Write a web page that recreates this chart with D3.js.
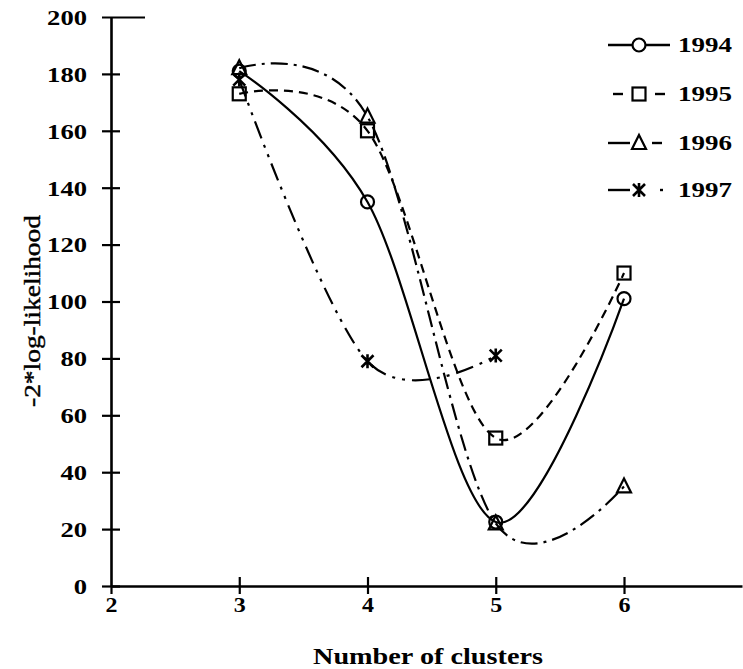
<!DOCTYPE html>
<html><head><meta charset="utf-8">
<script src="https://cdn.jsdelivr.net/npm/d3@7"></script>
<style>
html,body{margin:0;padding:0;background:#fff;}
svg{display:block;}
text{font-family:"Times New Roman","Liberation Serif",Tinos,serif;fill:#000;}
</style></head>
<body>
<svg id="c" width="743" height="669"></svg>
<script>
// ---- data ----
const clusters = [3, 4, 5, 6];
const s1994 = [181, 135, 22.5, 101];
const s1995 = [173, 160, 52, 110];
const s1996 = [182, 165, 22, 35];
const clusters1997 = [3, 4, 5];
const s1997 = [178, 79, 81];
const seriesNames = ["1994", "1995", "1996", "1997"];
const xTickValues = [2, 3, 4, 5, 6];
const yTickValues = [0, 20, 40, 60, 80, 100, 120, 140, 160, 180, 200];
const xTitle = "Number of clusters";
const yTitle = "-2*log-likelihood";

const FONT = '"Times New Roman","Liberation Serif",Tinos,serif';
const svg = d3.select("#c");
const x = d3.scaleLinear().domain([2, 6.92]).range([111, 742]);
const y = d3.scaleLinear().domain([0, 200]).range([586, 17]);

const series = [
  {name: seriesNames[0], xs: clusters, ys: s1994, dash: null, marker: "circle",
   leg: [[608, 670]]},
  {name: seriesNames[1], xs: clusters, ys: s1995, dash: "9,6", marker: "square",
   leg: [[613, 623], [655, 665]]},
  {name: seriesNames[2], xs: clusters, ys: s1996, dash: "17,6,3,6", marker: "triangle",
   leg: [[608, 630], [652, 662]]},
  {name: seriesNames[3], xs: clusters1997, ys: s1997, dash: "18,7,3,7,3,7", marker: "star",
   leg: [[608, 630], [660, 663]]}
];

// axes
const yAxis = svg.append("g").attr("transform", `translate(${x(2)},0)`)
  .call(d3.axisLeft(y).tickValues(yTickValues).tickFormat(d3.format("d")).tickSize(9).tickSizeOuter(0).tickPadding(0));
const xAxis = svg.append("g").attr("transform", `translate(0,${y(0)})`)
  .call(d3.axisBottom(x).tickValues(xTickValues).tickFormat(d3.format("d")).tickSize(9).tickSizeOuter(0).tickPadding(0));
[yAxis, xAxis].forEach(g => {
  g.select(".domain").attr("stroke", "#000").attr("stroke-width", 2.6);
  g.selectAll(".tick line").attr("stroke", "#000").attr("stroke-width", 2.2);
  g.selectAll(".tick text").attr("font-family", FONT).attr("font-weight", "bold")
    .attr("font-size", 21).attr("fill", "#000")
    .attr("lengthAdjust", "spacingAndGlyphs");
});
yAxis.selectAll(".tick line").attr("x1", -9).attr("x2", 9);
yAxis.selectAll(".tick").filter(d => d === 200).select("line").attr("x2", 34);
yAxis.selectAll(".tick text").attr("x", -24).attr("dy", "0.35em")
  .attr("textLength", d => String(d).length * 13.3);
xAxis.selectAll(".tick line").attr("y1", -9).attr("y2", 8);
xAxis.selectAll(".tick text").attr("y", 26).attr("dy", 0)
  .attr("textLength", d => String(d).length * 12);
xAxis.selectAll(".tick").filter(d => d === 2).select("line").attr("y1", 0);

// titles
svg.append("text").attr("x", 428).attr("y", 664).attr("text-anchor", "middle")
  .attr("font-family", FONT).attr("font-weight", "bold").attr("font-size", 24)
  .attr("textLength", 230).attr("lengthAdjust", "spacingAndGlyphs").text(xTitle);
svg.append("text").attr("transform", "translate(40,311) rotate(-90)").attr("text-anchor", "middle")
  .attr("font-family", FONT).attr("font-size", 23).attr("fill", "#000")
  .attr("stroke", "#000").attr("stroke-width", 0.4)
  .attr("textLength", 192).attr("lengthAdjust", "spacingAndGlyphs").text(yTitle);

// markers
function drawMarker(g, type, cx, cy) {
  const st = {fill: "none", stroke: "#000", "stroke-width": 2.2};
  let el;
  if (type === "circle") el = g.append("circle").attr("cx", cx).attr("cy", cy).attr("r", 6.5);
  else if (type === "square") el = g.append("rect").attr("x", cx - 6.5).attr("y", cy - 6.5).attr("width", 13).attr("height", 13);
  else if (type === "triangle") el = g.append("path").attr("d", `M${cx},${cy - 8}L${cx + 7},${cy + 6}L${cx - 7},${cy + 6}Z`);
  else {
    el = g.append("path").attr("d", `M${cx - 6},${cy - 6}L${cx + 6},${cy + 6}M${cx + 6},${cy - 6}L${cx - 6},${cy + 6}M${cx},${cy - 7}L${cx},${cy + 7}`);
    st["stroke-width"] = 2.6;
  }
  Object.entries(st).forEach(([k, v]) => el.attr(k, v));
}

const line = d3.line().curve(d3.curveCardinal.tension(0)).x(d => x(d[0])).y(d => y(d[1]));
series.forEach(s => {
  const pts = s.xs.map((v, i) => [v, s.ys[i]]);
  svg.append("path").attr("d", line(pts)).attr("fill", "none").attr("stroke", "#000")
    .attr("stroke-width", 2.2).attr("stroke-dasharray", s.dash);
});
series.forEach(s => {
  const g = svg.append("g");
  s.xs.forEach((v, i) => drawMarker(g, s.marker, x(v), y(s.ys[i])));
});

// legend
const legRows = [45, 94, 143, 190];
series.forEach((s, i) => {
  const ly = legRows[i];
  const g = svg.append("g");
  s.leg.forEach(([a, b]) => g.append("line").attr("x1", a).attr("x2", b).attr("y1", ly).attr("y2", ly)
    .attr("stroke", "#000").attr("stroke-width", 2.4));
  if (i === 0) g.append("circle").attr("cx", 639).attr("cy", ly).attr("r", 6.5).attr("fill", "#fff");
  drawMarker(g, s.marker, 639, ly);
  g.append("text").attr("x", 678).attr("y", ly + 7).attr("font-family", FONT).attr("font-weight", "bold").attr("font-size", 21)
    .attr("textLength", 54).attr("lengthAdjust", "spacingAndGlyphs").text(s.name);
});
</script>
</body></html>
